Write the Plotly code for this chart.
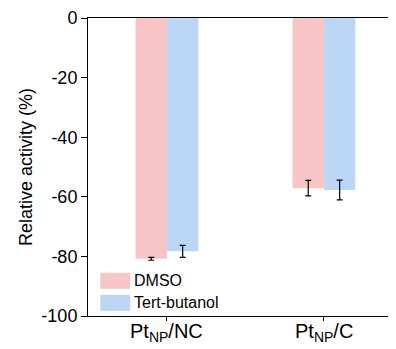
import plotly.graph_objects as go

categories = ["Pt<sub>NP</sub>/NC", "Pt<sub>NP</sub>/C"]
series_names = ["DMSO", "Tert-butanol"]
colors = ["#F8C5C6", "#BCD7F5"]
dmso = [-80.8, -57.1]
dmso_err = [0.5, 2.6]
tbu = [-78.3, -57.7]
tbu_err = [2.0, 3.3]
y_ticks = [0, -20, -40, -60, -80, -100]
y_ticktext = ["0", "-20", "-40", "-60", "-80", "-100"]

fig = go.Figure()
for name, vals, errs, col in [(series_names[0], dmso, dmso_err, colors[0]),
                              (series_names[1], tbu, tbu_err, colors[1])]:
    fig.add_bar(x=categories, y=vals, name=name, marker=dict(color=col, line=dict(width=0)),
                error_y=dict(type="data", array=errs, color="black", thickness=1.2, width=3))

# legend drawn as swatches + labels (paper coordinates)
for i, (name, col) in enumerate(zip(series_names, colors)):
    y_top = 0.145 - i * 0.074
    fig.add_shape(type="rect", xref="paper", yref="paper", x0=0.04, x1=0.137,
                  y0=y_top - 0.054, y1=y_top, fillcolor=col, line=dict(width=0))
    fig.add_annotation(xref="paper", yref="paper", x=0.142, y=y_top - 0.027, text=name,
                       showarrow=False, xanchor="left", yanchor="middle", font=dict(size=16))

# category labels placed just below the axis
for cat in categories:
    fig.add_annotation(xref="x", yref="paper", x=cat, y=0, text=cat, showarrow=False,
                       xanchor="center", yanchor="top", yshift=-2, font=dict(size=20))

fig.update_layout(
    width=388, height=341,
    margin=dict(l=80, r=0, t=10, b=33),
    plot_bgcolor="white", paper_bgcolor="white",
    barmode="group", bargap=0.6, bargroupgap=0,
    font=dict(family="Arial, Liberation Sans, sans-serif", color="black"),
    showlegend=False,
    xaxis=dict(range=[-0.503, 1.459], showline=True, linecolor="black", linewidth=1, mirror=True,
               ticks="outside", ticklen=4, tickcolor="black", showticklabels=False, showgrid=False,
               automargin=False),
    yaxis=dict(range=[-100, 0], tickvals=y_ticks, ticktext=y_ticktext, showline=True,
               linecolor="black", linewidth=1, automargin=False,
               ticks="outside", ticklen=6, tickcolor="black", tickfont=dict(size=18), showgrid=False,
               zeroline=False, title=dict(text="Relative activity (%)", font=dict(size=18), standoff=4)),
)
fig.write_html("out.html")
